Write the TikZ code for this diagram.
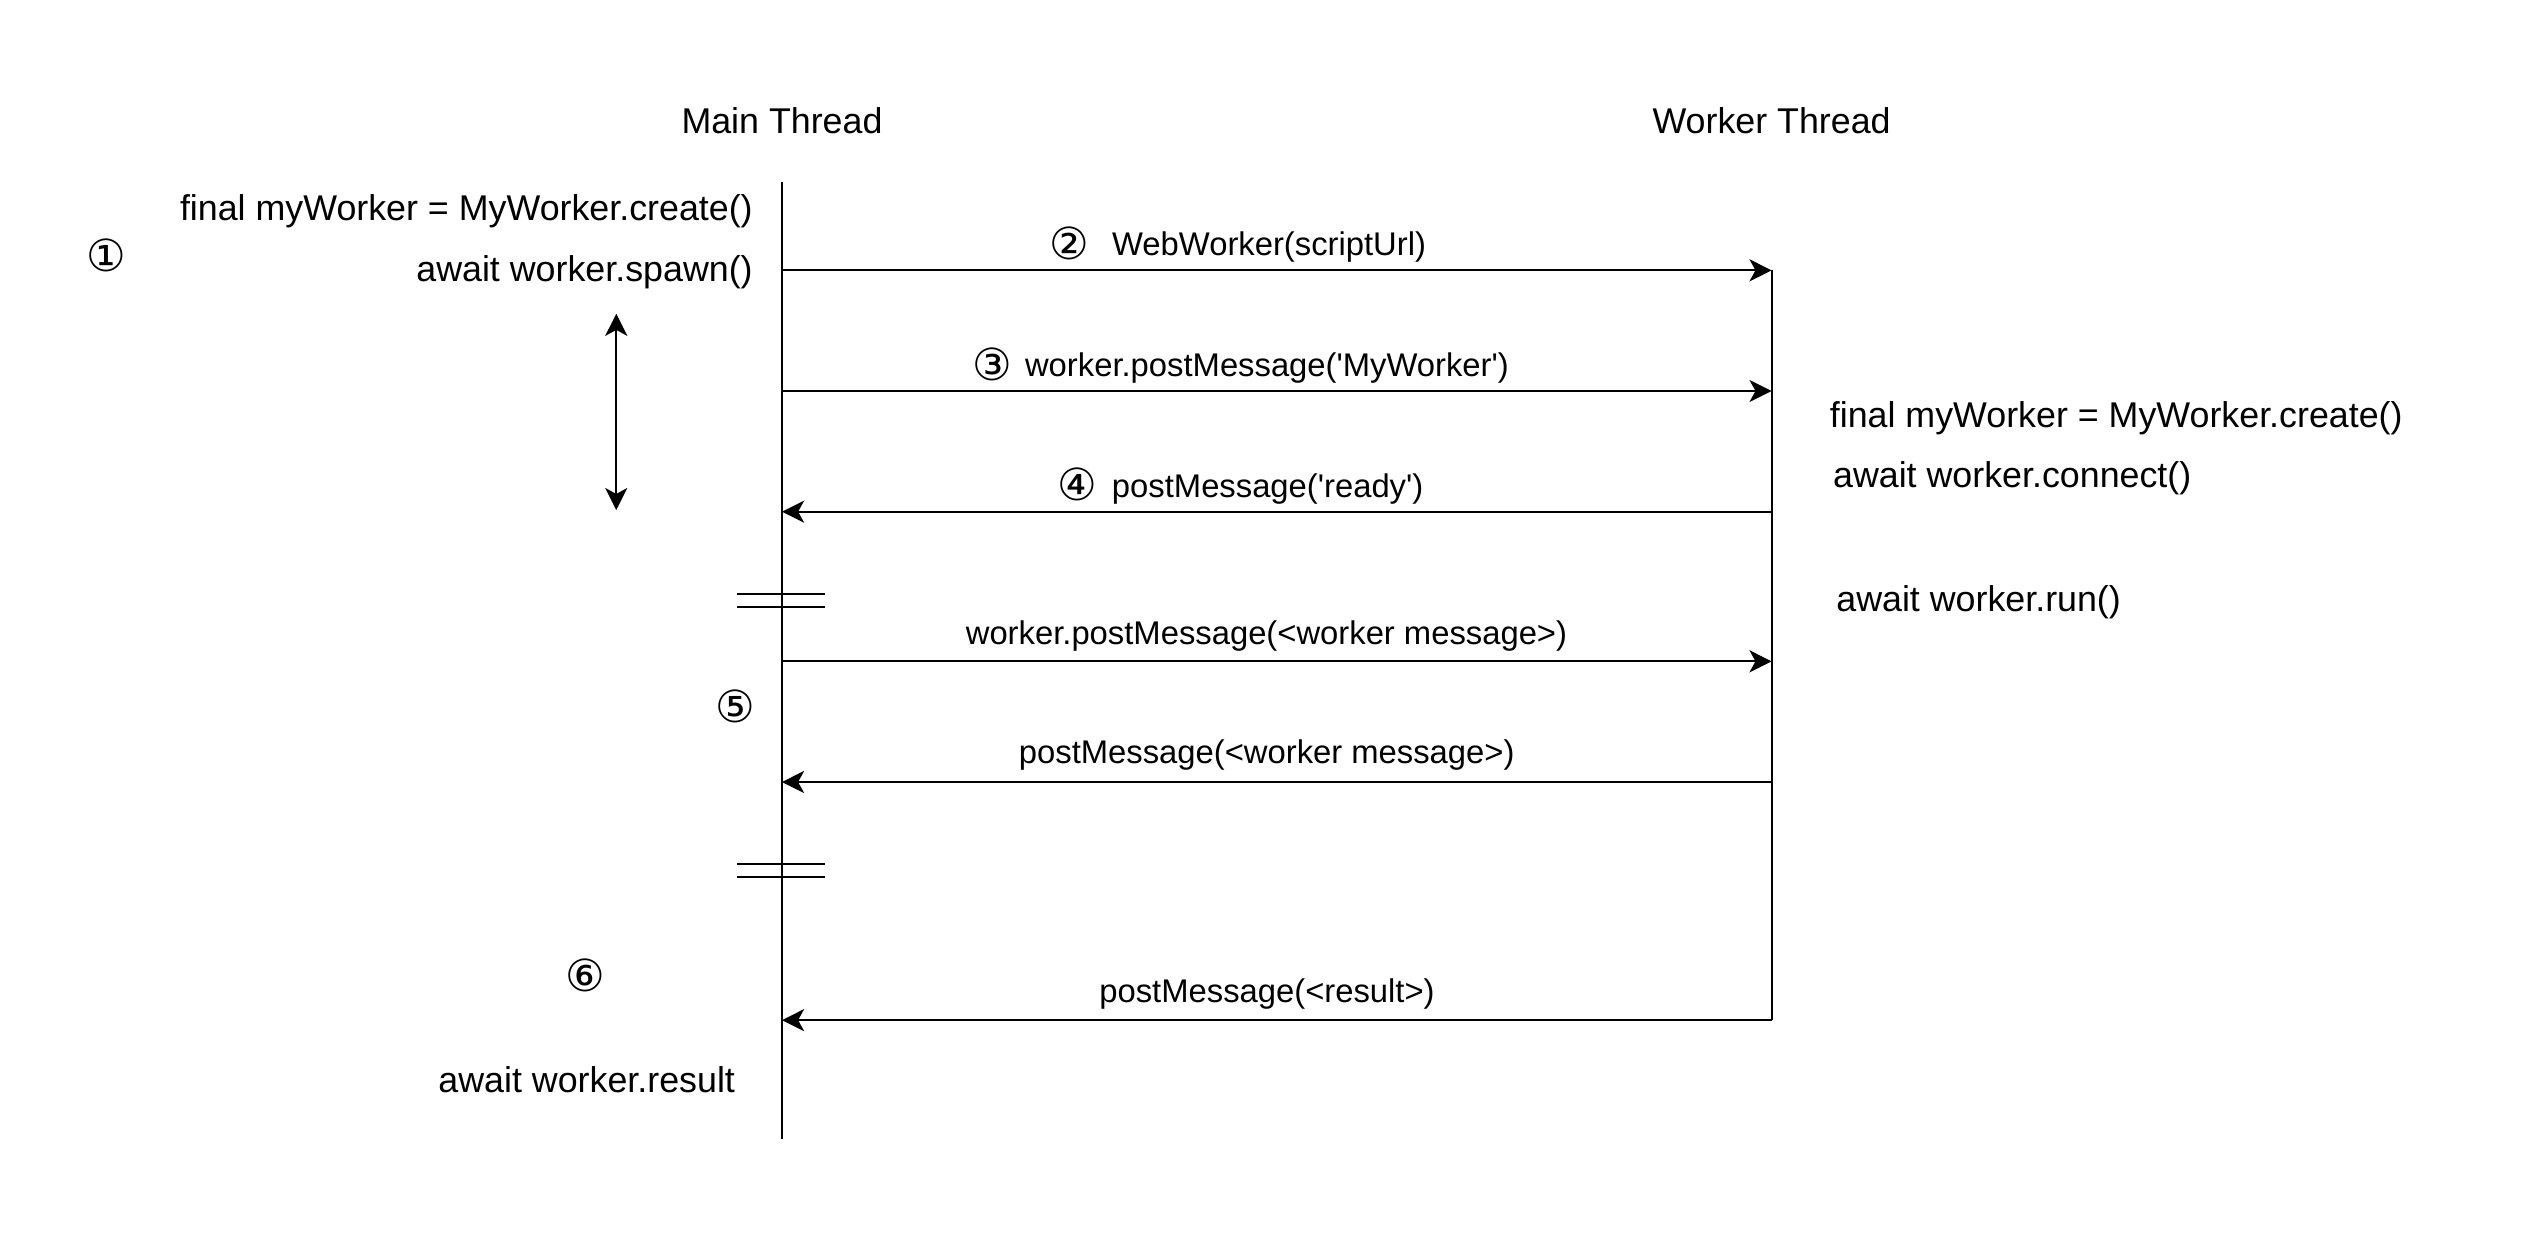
\documentclass[tikz,border=0pt]{standalone}
\usepackage{fontspec}
\setmainfont{Liberation Sans}
\newfontfamily\circfont{DejaVu Sans}
\usetikzlibrary{arrows.meta, positioning}

\tikzset{
  lifeline/.style={line width=1pt},
  msg/.style={-{Stealth[length=11pt,width=11pt,inset=3pt]}, line width=1pt},
  lbl/.style={font=\fontsize{17.8}{21}\selectfont, inner sep=0pt},
  msglbl/.style={font=\fontsize{16.3}{20}\selectfont, inner sep=0pt, anchor=west},
  breakmark/.style={line width=1pt},
}
\newcommand{\circnum}[1]{\raisebox{-1.8pt}{\circfont\fontsize{22}{22}\selectfont #1}}

\begin{document}
\begin{tikzpicture}[x=0.8pt, y=-0.8pt]
    \useasboundingbox (0,0) rectangle (1568,768);
    % lifelines
    \node[lbl] (mainT) at (486,75) {Main Thread};
    \node[lbl] (workT) at (1101,75) {Worker Thread};
    \coordinate (mTop) at (486,113);
    \coordinate (mEnd) at (486,708);
    \coordinate (wTop) at (1101,168);
    \coordinate (wEnd) at (1101,634);
    \draw[lifeline] (mTop) -- (mEnd);
    \draw[lifeline] (wTop) -- (wEnd);

    % message points on both lifelines
    \foreach \n/\y in {1/168, 2/243, 3/318, 4/411, 5/486, 6/634} {
        \coordinate (m\n) at (486,\y);
        \coordinate (w\n) at (1101,\y);
    }
    \draw[msg] (m1) -- (w1);
    \draw[msg] (m2) -- (w2);
    \draw[msg] (w3) -- (m3);
    \draw[msg] (m4) -- (w4);
    \draw[msg] (w5) -- (m5);
    \draw[msg] (w6) -- (m6);

    % message labels
    \node[msglbl] (lbl1) at (652,152) {\circnum{②}\hspace{0.7em}WebWorker(scriptUrl)};
    \node[msglbl] (lbl2) at (604,227) {\circnum{③}\hspace{0.4em}worker.postMessage(\textquotesingle MyWorker\textquotesingle)};
    \node[msglbl] (lbl3) at (657,302) {\circnum{④}\hspace{0.45em}postMessage(\textquotesingle ready\textquotesingle)};
    \node[msglbl] (lbl4) at (600,395) {worker.postMessage(<worker message>)};
    \node[msglbl] (lbl5) at (633,469) {postMessage(<worker message>)};
    \node[msglbl] (lbl6) at (683,618) {postMessage(<result>)};

    % break marks on the main thread
    \foreach \y in {369, 377, 537, 545} {
        \draw[breakmark] (458,\y) -- (513,\y);
    }

    % main thread code
    \node[lbl, anchor=east] (create) at (468,131) {final myWorker = MyWorker.create()};
    \node[lbl, anchor=east] (spawn) at (468,169) {await worker.spawn()};
    \node[lbl] (one) at (66,159) {\circnum{①}};
    \coordinate (spanTop) at (383,195);
    \coordinate (spanBot) at (383,317);
    \draw[msg, {Stealth[length=11pt,width=11pt,inset=3pt]}-{Stealth[length=11pt,width=11pt,inset=3pt]}] (spanTop) -- (spanBot);
    \node[lbl] (five) at (457,439) {\circnum{⑤}};
    \node[lbl] (six) at (364,606) {\circnum{⑥}};
    \node[lbl, anchor=east] (result) at (457,671) {await worker.result};

    % worker thread code
    \node[lbl, anchor=west] (wcreate) at (1137,260) {final myWorker = MyWorker.create()};
    \node[lbl, anchor=west] (connect) at (1139,297) {await worker.connect()};
    \node[lbl, anchor=west] (run) at (1141,374) {await worker.run()};
\end{tikzpicture}
\end{document}
